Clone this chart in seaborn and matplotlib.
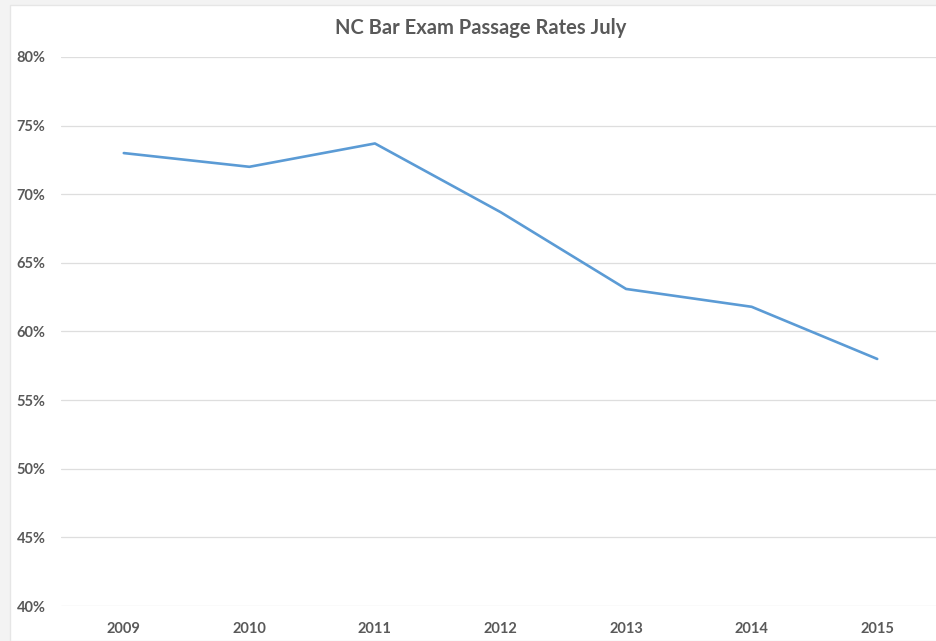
import matplotlib
matplotlib.use("Agg")
import matplotlib.pyplot as plt
import matplotlib.patches as mpatches
from matplotlib.ticker import FuncFormatter, MultipleLocator
import pandas as pd
import seaborn as sns

# dados
anos = [2009, 2010, 2011, 2012, 2013, 2014, 2015]
taxas = [0.730, 0.720, 0.737, 0.687, 0.631, 0.618, 0.580]
titulo = "NC Bar Exam Passage Rates July"

df = pd.DataFrame({"ano": anos, "taxa": taxas})

sns.set_style("white")
plt.rcParams["font.family"] = ["Lato", "DejaVu Sans"]

cinza = "#595959"
fig = plt.figure(figsize=(9.37, 6.41), dpi=100, facecolor="#f3f3f3")
# area branca do grafico (atras de tudo)
fig.patches.append(mpatches.Rectangle((10 / 937, 0), 1, 1 - 5 / 641,
                                      transform=fig.transFigure,
                                      facecolor="white", edgecolor="#e6e6e6",
                                      linewidth=1, zorder=-10))

ax = fig.add_axes([61 / 937, 35 / 641, 879 / 937, 549 / 641])
ax.set_facecolor("none")

sns.lineplot(data=df, x="ano", y="taxa", ax=ax, color="#5B9BD5",
             linewidth=1.9, zorder=3)

ax.set_ylim(0.40, 0.80)
ax.set_xlim(anos[0] - 0.5, anos[-1] + 0.5)
ax.yaxis.set_major_locator(MultipleLocator(0.05))
ax.yaxis.set_major_formatter(FuncFormatter(lambda v, p: f"{v*100:.0f}%"))
ax.set_xticks(anos)
ax.set_xticklabels([str(a) for a in anos])

ax.grid(axis="y", color="#dedede", linewidth=0.9)
ax.grid(axis="x", visible=False)
for s in ax.spines.values():
    s.set_visible(False)

ax.tick_params(axis="both", length=0, labelsize=10.5, labelcolor=cinza)
ax.tick_params(axis="y", pad=11)
ax.tick_params(axis="x", pad=11.5)
for lbl in ax.get_xticklabels() + ax.get_yticklabels():
    lbl.set_fontweight("bold")

ax.set_xlabel("")
ax.set_ylabel("")

fig.text(481 / 937, 1 - 28 / 641, titulo, ha="center", va="center",
         fontsize=14.5, fontweight="bold", color=cinza)

fig.savefig("out.png", dpi=100, facecolor=fig.get_facecolor())
